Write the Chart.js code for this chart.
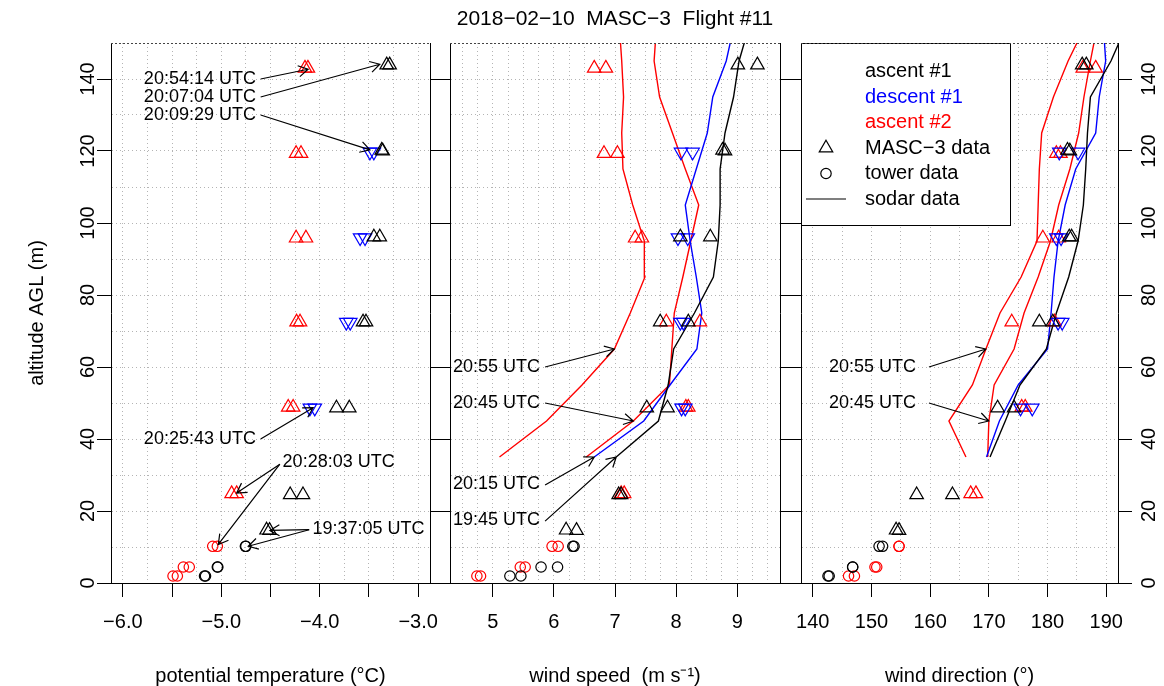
<!DOCTYPE html>
<html>
<head>
<meta charset="utf-8">
<script src="https://cdn.jsdelivr.net/npm/chart.js@4.4.1/dist/chart.umd.min.js"></script>
<style>
  html, body { margin: 0; padding: 0; background: #fff; }
  #wrap { position: relative; width: 1164px; height: 686px; }
  #wrap canvas { position: absolute; left: 0; top: 0; }
</style>
</head>
<body>
<div id="wrap">
  <canvas id="c1" width="1164" height="686"></canvas>
  <canvas id="c2" width="1164" height="686"></canvas>
  <canvas id="c3" width="1164" height="686"></canvas>
</div>
<script>
const MINUS = '\u2212';

// altitudes (m AGL)
const altAscent1 = [143.9, 143.9, 120.2, 120.0, 96.1, 96.1, 72.5, 72.5, 48.6, 48.6, 24.5, 24.5, 14.7, 14.6];
const altDescent1 = [119.7, 119.7, 95.9, 95.9, 72.4, 72.4, 48.6, 48.6];
const altAscent2 = [143.0, 143.0, 119.3, 119.3, 95.8, 95.8, 72.5, 72.5, 48.8, 48.8, 24.8, 24.8];
const altTower = [1.95, 1.95, 4.45, 4.45, 10.2, 10.2];
const altSodar = [35, 45, 55, 65, 75, 85, 95, 105, 115, 125, 135, 145, 155];

// potential temperature (°C)
const thetaAscent1 = [-3.32, -3.29, -3.37, -3.36, -3.45, -3.39, -3.56, -3.53, -3.83, -3.70, -4.30, -4.17, -4.54, -4.51];
const thetaDescent1 = [-3.49, -3.45, -3.59, -3.54, -3.73, -3.69, -4.10, -4.05];
const thetaAscent2 = [-4.15, -4.12, -4.24, -4.19, -4.24, -4.14, -4.235, -4.20, -4.32, -4.27, -4.895, -4.844];
const thetaTower1 = [-5.17, -5.16, -5.04, -5.035, -4.755, -4.75];
const thetaTower2 = [-5.49, -5.446, -5.385, -5.325, -5.087, -5.04];

// wind speed (m/s)
const wsAscent1 = [9.01, 9.33, 8.76, 8.80, 8.07, 8.56, 7.74, 8.20, 7.52, 7.86, 7.06, 7.10, 6.20, 6.37];
const wsDescent1 = [8.08, 8.27, 8.03, 8.19, 8.07, 8.12, 8.09, 8.15];
const wsAscent2 = [6.66, 6.85, 6.82, 7.04, 7.33, 7.44, 7.84, 8.39, 8.16, 8.20, 7.10, 7.15];
const wsTower1 = [5.28, 5.46, 5.79, 6.06, 6.31, 6.33];
const wsTower2 = [4.74, 4.80, 5.45, 5.53, 5.97, 6.07];
const wsSodar1945 = [7.02, 7.71, 7.87, 7.96, 8.30, 8.61, 8.69, 8.72, 8.72, 8.80, 8.94, 9.03, 9.20];
const wsSodar2015 = [6.66, 7.47, 7.90, 8.34, 8.42, 8.33, 8.23, 8.15, 8.33, 8.51, 8.60, 8.82, 8.95];
const wsSodar2045 = [6.53, 7.30, 7.89, 7.93, 7.97, 8.11, 8.24, 8.37, 8.15, 7.94, 7.73, 7.64, 7.68];
const wsSodar2055 = [5.11, 5.88, 6.46, 6.99, 7.25, 7.49, 7.48, 7.29, 7.13, 7.11, 7.14, 7.11, 7.07];

// wind direction (deg)
const wdAscent1 = [185.9, 186.6, 183.4, 183.8, 183.7, 184.1, 178.6, 180.9, 171.5, 174.3, 157.7, 163.8, 154.2, 154.7];
const wdDescent1 = [182.0, 185.2, 181.5, 182.3, 181.8, 182.5, 175.4, 177.4];
const wdAscent2 = [186.0, 188.2, 181.5, 182.2, 179.2, 181.9, 173.9, 181.2, 175.6, 176.2, 166.9, 167.8];
const wdTower1 = [142.6, 142.8, 146.8, 146.8, 151.3, 151.9];
const wdTower2 = [146.1, 147.1, 150.6, 150.9, 154.7, 154.7];
const wdSodar1945 = [170.2, 172.8, 175.3, 179.8, 181.5, 183.6, 185.2, 186.1, 186.5, 186.8, 187.3, 190.8, 193.5];
const wdSodar2015 = [169.6, 171.8, 175.0, 180.0, 180.6, 181.1, 181.8, 183.0, 184.8, 188.2, 188.8, 189.9, 189.5];
const wdSodar2045 = [169.8, 170.0, 170.9, 174.3, 176.0, 178.4, 180.5, 181.9, 183.8, 185.3, 186.2, 187.3, 188.5];
const wdSodar2055 = [166.1, 163.2, 167.2, 169.5, 171.9, 175.5, 178.2, 178.4, 178.6, 179.0, 181.0, 183.5, 186.5];

// time labels with arrows, in data coordinates: [x0, y0, x1, y1]
const notesTheta = [
  { text: '20:54:14 UTC', tx: -4.648, ty: 140, align: 'right', arrows: [[-4.60, 140, -4.118, 142.7]] },
  { text: '20:07:04 UTC', tx: -4.648, ty: 135, align: 'right', arrows: [[-4.60, 135, -3.39, 144.1]] },
  { text: '20:09:29 UTC', tx: -4.648, ty: 130, align: 'right', arrows: [[-4.60, 130, -3.49, 120.3]] },
  { text: '20:25:43 UTC', tx: -4.648, ty: 40, align: 'right', arrows: [[-4.60, 40, -4.067, 48.7]] },
  { text: '20:28:03 UTC', tx: -4.377, ty: 33.5, align: 'left', arrows: [[-4.405, 33, -4.844, 25.0], [-4.405, 33, -5.03, 10.7]] },
  { text: '19:37:05 UTC', tx: -4.073, ty: 15, align: 'left', arrows: [[-4.107, 14.8, -4.506, 14.6], [-4.107, 14.8, -4.726, 10.2]] }
];
const notesSpeed = [
  { text: '20:55 UTC', tx: 5.774, ty: 60, align: 'right', arrows: [[5.856, 60, 6.99, 65]] },
  { text: '20:45 UTC', tx: 5.774, ty: 50, align: 'right', arrows: [[5.856, 50, 7.30, 45]] },
  { text: '20:15 UTC', tx: 5.774, ty: 27.5, align: 'right', arrows: [[5.856, 27.2, 6.66, 35]] },
  { text: '19:45 UTC', tx: 5.774, ty: 17.5, align: 'right', arrows: [[5.856, 17.2, 7.02, 35]] }
];
const notesDir = [
  { text: '20:55 UTC', tx: 157.6, ty: 60, align: 'right', arrows: [[159.8, 60, 169.5, 65]] },
  { text: '20:45 UTC', tx: 157.6, ty: 50, align: 'right', arrows: [[159.8, 50, 170.0, 45]] }
];

const legendLabels = ['ascent #1', 'descent #1', 'ascent #2', 'MASC' + MINUS + '3 data', 'tower data', 'sodar data'];
const legendColors = ['#000000', '#0000ff', '#ff0000', '#000000', '#000000', '#000000'];

Chart.defaults.font.family = '"Liberation Sans", Arial, Helvetica, sans-serif';
Chart.defaults.font.size = 20;
Chart.defaults.color = '#000';

const BLACK = '#000000', BLUE = '#0000ff', RED = '#ff0000';
const GRID = '#b4b4b4';

function pts(xs, ys) { return xs.map((v, i) => ({ x: v, y: ys[i] })); }
function isMult(v, m) { const r = v / m; return Math.abs(r - Math.round(r)) < 1e-6; }
function stepTicks(from, to, step) {
  const t = [];
  for (let v = from; v <= to + 1e-9; v += step) t.push({ value: +v.toFixed(6) });
  return t;
}

function masc(xs, ys, color, down) {
  return {
    data: pts(xs, ys), pointStyle: 'triangle', pointRadius: 7.8, pointBorderWidth: 1.2,
    pointBorderColor: color, pointBackgroundColor: 'rgba(0,0,0,0)', pointRotation: down ? 180 : 0,
    borderColor: color, showLine: false
  };
}
function tower(xs, ys, color) {
  return {
    data: pts(xs, ys), pointStyle: 'circle', pointRadius: 5.2, pointBorderWidth: 1.2,
    pointBorderColor: color, pointBackgroundColor: 'rgba(0,0,0,0)', borderColor: color, showLine: false
  };
}
function sodar(xs, color) {
  return { data: pts(xs, altSodar), showLine: true, borderColor: color, borderWidth: 1.4, pointRadius: 0, fill: false, tension: 0 };
}

function xScale(min, max, grid, major, labelStep, digits, title) {
  return {
    type: 'linear', position: 'bottom', min: min, max: max,
    afterBuildTicks: s => { s.ticks = stepTicks(grid[0], grid[1], grid[2]); },
    afterFit: s => { s.height = 103; },
    ticks: {
      autoSkip: false, maxRotation: 0, minRotation: 0, padding: 13,
      callback: v => isMult(v, labelStep) ? v.toFixed(digits).replace('-', MINUS) : ''
    },
    grid: {
      color: GRID, lineWidth: 1, tickLength: 14, tickWidth: 1,
      tickColor: c => (c.tick && isMult(c.tick.value, major)) ? BLACK : 'rgba(0,0,0,0)'
    },
    border: { display: true, color: BLACK, width: 1, dash: [1, 3] },
    title: { display: true, text: title, font: { size: 20, lineHeight: 1 }, padding: { top: 0, bottom: 0 } }
  };
}

function yScale(pos, width, tickLen, onArea, labels, pad) {
  return {
    type: 'linear', position: pos, min: 0, max: 150,
    afterBuildTicks: s => { s.ticks = stepTicks(0, 150, 10); },
    afterFit: s => { s.width = width; },
    ticks: {
      display: labels, autoSkip: false, minRotation: 90, maxRotation: 90, crossAlign: 'center', padding: pad,
      callback: v => isMult(v, 20) ? String(v) : ''
    },
    grid: {
      drawOnChartArea: onArea, color: GRID, lineWidth: 1, tickLength: tickLen, tickWidth: 1,
      tickColor: c => (c.tick && isMult(c.tick.value, 20)) ? BLACK : 'rgba(0,0,0,0)'
    },
    border: { display: true, color: BLACK, width: 1, dash: [1, 3] }
  };
}

function drawArrow(ctx, x0, y0, x1, y1) {
  const ang = Math.atan2(y1 - y0, x1 - x0), len = 11, spread = Math.PI / 6;
  ctx.beginPath();
  ctx.moveTo(x0, y0); ctx.lineTo(x1, y1);
  ctx.moveTo(x1 - len * Math.cos(ang - spread), y1 - len * Math.sin(ang - spread));
  ctx.lineTo(x1, y1);
  ctx.lineTo(x1 - len * Math.cos(ang + spread), y1 - len * Math.sin(ang + spread));
  ctx.stroke();
}

// top edge of each panel
const topEdge = {
  id: 'topEdge',
  afterDraw(chart) {
    const { ctx, chartArea: a } = chart;
    ctx.save();
    ctx.strokeStyle = '#444'; ctx.lineWidth = 1; ctx.setLineDash([2, 2]);
    ctx.beginPath(); ctx.moveTo(a.left, a.top + 0.5); ctx.lineTo(a.right, a.top + 0.5); ctx.stroke();
    ctx.restore();
  }
};

function notesPlugin(notes) {
  return {
    id: 'notes',
    afterDatasetsDraw(chart) {
      const { ctx } = chart, x = chart.scales.x, y = chart.scales.y;
      ctx.save();
      ctx.font = '18px "Liberation Sans", Arial, sans-serif';
      ctx.fillStyle = BLACK; ctx.strokeStyle = BLACK; ctx.lineWidth = 1.2;
      ctx.textBaseline = 'middle';
      notes.forEach(n => {
        ctx.textAlign = n.align;
        ctx.fillText(n.text, x.getPixelForValue(n.tx), y.getPixelForValue(n.ty));
        n.arrows.forEach(a => drawArrow(ctx, x.getPixelForValue(a[0]), y.getPixelForValue(a[1]),
          x.getPixelForValue(a[2]), y.getPixelForValue(a[3])));
      });
      ctx.restore();
    }
  };
}

const legendBox = {
  id: 'legendBox',
  afterDatasetsDraw(chart) {
    const { ctx, chartArea: a } = chart;
    const L = a.left, T = a.top, W = 209, H = 182;
    ctx.save();
    ctx.fillStyle = '#fff'; ctx.fillRect(L, T, W, H);
    ctx.strokeStyle = BLACK; ctx.lineWidth = 1; ctx.strokeRect(L + 0.5, T + 0.5, W, H);
    ctx.font = '20px "Liberation Sans", Arial, sans-serif';
    ctx.textAlign = 'left'; ctx.textBaseline = 'middle';
    legendLabels.forEach((lab, i) => {
      const yy = T + 28.5 + i * 25.5;
      ctx.fillStyle = legendColors[i];
      ctx.fillText(lab, L + 64, yy);
      ctx.strokeStyle = BLACK; ctx.lineWidth = 1.2;
      if (i === 3) {
        const r = 7.8, cx = L + 25;
        ctx.beginPath();
        ctx.moveTo(cx, yy - r);
        ctx.lineTo(cx + r * Math.sin(2 * Math.PI / 3), yy + r / 2);
        ctx.lineTo(cx - r * Math.sin(2 * Math.PI / 3), yy + r / 2);
        ctx.closePath(); ctx.stroke();
      } else if (i === 4) {
        ctx.beginPath(); ctx.arc(L + 25, yy, 5.2, 0, 2 * Math.PI); ctx.stroke();
      } else if (i === 5) {
        ctx.beginPath(); ctx.moveTo(L + 5, yy); ctx.lineTo(L + 45, yy); ctx.stroke();
      }
    });
    ctx.restore();
  }
};

function makeChart(id, datasets, scales, padding, plugins, title) {
  return new Chart(document.getElementById(id), {
    type: 'scatter',
    data: { datasets: datasets },
    options: {
      responsive: false, animation: false, devicePixelRatio: 1, events: [],
      layout: { padding: padding },
      scales: scales,
      plugins: {
        legend: { display: false },
        tooltip: { enabled: false },
        title: title || { display: false }
      }
    },
    plugins: plugins
  });
}

// panel 1: potential temperature
const yLeft1 = yScale('left', 111, 14, true, true, -7.7);
yLeft1.title = { display: true, text: 'altitude AGL (m)', font: { size: 20, lineHeight: 1 }, padding: { top: 27, bottom: 0 } };
makeChart('c1', [
  masc(thetaAscent1, altAscent1, BLACK, false),
  masc(thetaDescent1, altDescent1, BLUE, true),
  masc(thetaAscent2, altAscent2, RED, false),
  tower(thetaTower1, altTower, BLACK),
  tower(thetaTower2, altTower, RED)
], {
  x: xScale(-6.12, -2.88, [-6, -3, 0.25], 0.5, 1, 1, 'potential temperature (\u00B0C)'),
  y: yLeft1,
  y2: yScale('right', 10, 10, false, false, 0)
}, { left: 0, right: 724, top: 43, bottom: 0 }, [topEdge, notesPlugin(notesTheta)]);

// panel 2: wind speed
makeChart('c2', [
  masc(wsAscent1, altAscent1, BLACK, false),
  masc(wsDescent1, altDescent1, BLUE, true),
  masc(wsAscent2, altAscent2, RED, false),
  tower(wsTower1, altTower, BLACK),
  tower(wsTower2, altTower, RED),
  sodar(wsSodar1945, BLACK),
  sodar(wsSodar2015, BLUE),
  sodar(wsSodar2045, RED),
  sodar(wsSodar2055, RED)
], {
  x: xScale(4.3, 9.7, [4.5, 9.5, 0.25], 1, 1, 0, 'wind speed  (m s\u207B\u00B9)'),
  y: yScale('left', 10, 10, true, false, 0),
  y2: yScale('right', 10, 10, false, false, 0)
}, { left: 440, right: 374, top: 0, bottom: 0 }, [topEdge, notesPlugin(notesSpeed)], {
  display: true, text: '2018' + MINUS + '02' + MINUS + '10  MASC' + MINUS + '3  Flight #11',
  font: { size: 21, weight: 'normal', lineHeight: 1.2 }, color: BLACK, padding: { top: 7, bottom: 10.8 }
});

// panel 3: wind direction
makeChart('c3', [
  masc(wdAscent1, altAscent1, BLACK, false),
  masc(wdDescent1, altDescent1, BLUE, true),
  masc(wdAscent2, altAscent2, RED, false),
  tower(wdTower1, altTower, BLACK),
  tower(wdTower2, altTower, RED),
  sodar(wdSodar1945, BLACK),
  sodar(wdSodar2015, BLUE),
  sodar(wdSodar2045, RED),
  sodar(wdSodar2055, RED)
], {
  x: xScale(138, 192, [140, 190, 5], 10, 10, 0, 'wind direction (\u00B0)'),
  y: yScale('left', 11, 11, true, false, 0),
  y2: yScale('right', 46, 14, false, true, 0.3)
}, { left: 790, right: 0, top: 43, bottom: 0 }, [topEdge, notesPlugin(notesDir), legendBox]);
</script>
</body>
</html>
